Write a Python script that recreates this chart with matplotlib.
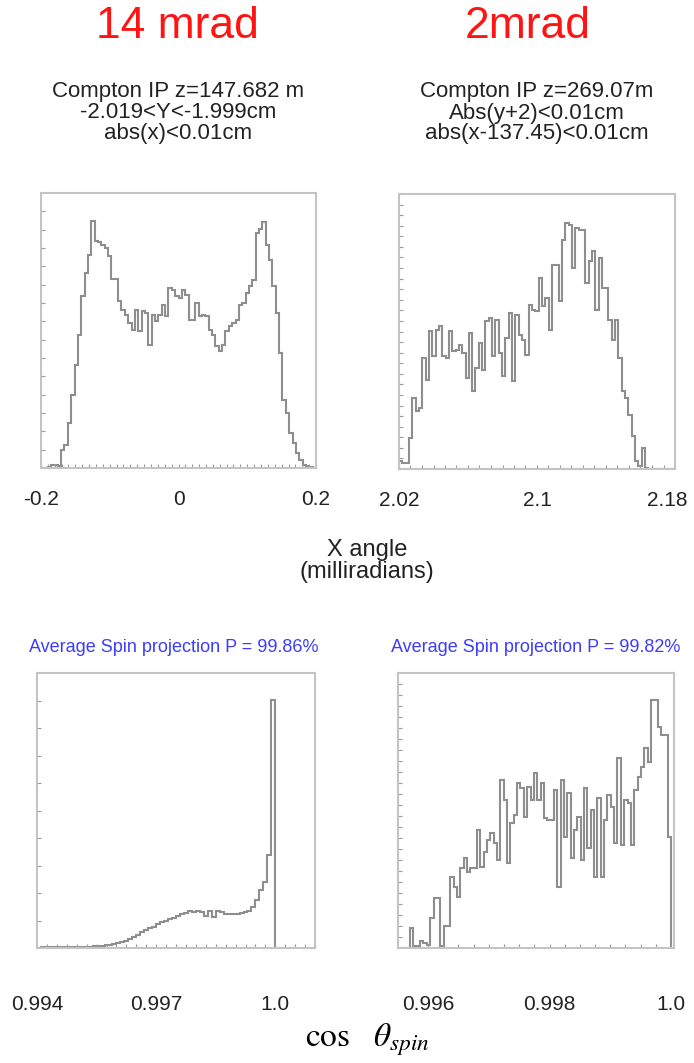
import numpy as np
import matplotlib
matplotlib.use('Agg')
import matplotlib.pyplot as plt
from matplotlib.ticker import MultipleLocator
from matplotlib.transforms import ScaledTranslation

plt.rcParams['font.family'] = ['Liberation Sans', 'DejaVu Sans']
plt.rcParams['mathtext.fontset'] = 'stix'

# --- data (arbitrary count units) ---
titles = ['14 mrad', '2mrad']
cuts_14 = 'Compton IP z=147.682 m\n-2.019<Y<-1.999cm\nabs(x)<0.01cm'
cuts_2 = 'Compton IP z=269.07m\nAbs(y+2)<0.01cm\nabs(x-137.45)<0.01cm'
spin_14 = 'Average Spin projection P = 99.86%'
spin_2 = 'Average Spin projection P = 99.82%'

xang_14_range = (-0.2, 0.2)
xang_14_ticks = [-0.2, 0.0, 0.2]
xang_14_labels = ['-0.2', '0', '0.2']
xang_14_counts = [0, 0, 1, 3, 3, 2, 18, 23, 45, 73,
                  103, 133, 172, 195, 213, 247, 227, 226, 223, 220,
                  212, 189, 189, 167, 158, 153, 145, 138, 158, 137,
                  157, 155, 123, 153, 147, 153, 163, 152, 180, 178,
                  172, 170, 178, 173, 148, 148, 165, 152, 153, 152,
                  138, 133, 122, 117, 123, 137, 142, 145, 148, 163,
                  165, 175, 182, 188, 235, 239, 246, 223, 208, 182,
                  155, 115, 68, 55, 35, 25, 15, 8, 3, 2,
                  1, 0]

xang_2_range = (2.02, 2.18)
xang_2_ticks = [2.02, 2.1, 2.18]
xang_2_labels = ['2.02', '2.1', '2.18']
xang_2_counts = [8, 6, 6, 31, 71, 58, 61, 111, 89, 138,
                 113, 139, 143, 113, 111, 138, 118, 119, 124, 116,
                 91, 136, 78, 101, 126, 99, 148, 151, 113, 149,
                 116, 93, 131, 156, 88, 154, 134, 129, 114, 164,
                 159, 158, 191, 163, 171, 139, 204, 204, 168, 229,
                 246, 244, 201, 241, 239, 239, 186, 208, 218, 159,
                 211, 181, 181, 149, 129, 149, 111, 78, 71, 54,
                 33, 8, 3, 21, 1, 0, 0, 0, 0, 0,
                 0, 0, 0]

cos_14_range = (0.994, 1.0)
cos_14_ticks = [0.994, 0.997, 1.0]
cos_14_labels = ['0.994', '0.997', '1.0']
cos_14_counts = [0, 1, 1, 1, 1, 1, 1, 1, 1, 1,
                 1, 1, 1, 1, 2, 2, 2, 3, 3, 4,
                 5, 6, 7, 9, 11, 13, 16, 18, 20, 21,
                 24, 26, 27, 29, 30, 32, 34, 35, 37, 36,
                 37, 36, 32, 37, 31, 37, 36, 34, 34, 34,
                 34, 35, 36, 37, 41, 48, 58, 66, 93, 248]

cos_2_range = (0.99554, 1.0)
cos_2_ticks = [0.996, 0.998, 1.0]
cos_2_labels = ['0.996', '0.998', '1.0']
cos_2_counts = [0, 0, 0, 20, 2, 2, 7, 5, 3, 30,
                50, 50, 2, 22, 22, 71, 61, 51, 80, 90,
                76, 80, 80, 118, 81, 96, 108, 115, 105, 88,
                168, 148, 85, 125, 133, 165, 160, 131, 161, 148,
                175, 148, 165, 130, 128, 128, 158, 61, 168, 111,
                155, 90, 118, 131, 88, 160, 100, 138, 71, 150,
                71, 128, 153, 141, 105, 190, 103, 148, 145, 103,
                158, 171, 181, 200, 186, 248, 248, 221, 213, 213,
                111]

W, H = 694, 1063
LINE = '#8e8e8e'
SPINE = '#c4c4c4'
TICK = '#9a9a9a'

fig = plt.figure(figsize=(W / 100, H / 100), dpi=100)


def box(x0, y0, x1, y1):
    # pixel box -> figure fraction
    return [x0 / W, 1 - y1 / H, (x1 - x0) / W, (y1 - y0) / H]


def hist_panel(rect, rng, counts, xlim, ticks, labels, xminor, ny, pad):
    ax = fig.add_axes(rect)
    edges = np.linspace(rng[0], rng[1], len(counts) + 1)
    ax.stairs(counts, edges, color=LINE, lw=1.5)
    ax.set_xlim(xlim)
    ax.set_ylim(0, 275)
    ax.set_xticks(ticks, labels)
    ax.xaxis.set_minor_locator(MultipleLocator(xminor))
    ax.set_yticks(np.linspace(0, 275, ny + 1)[1:-1])
    ax.set_yticklabels([])
    ax.tick_params(which='both', direction='in', color=TICK, length=3,
                   width=0.8, pad=pad, labelsize=15, labelcolor='#222222')
    for s in ax.spines.values():
        s.set_color(SPINE)
        s.set_linewidth(1.5)
    return ax


hist_panel(box(41, 193, 316, 468), xang_14_range, xang_14_counts, (-0.2, 0.2),
           xang_14_ticks, xang_14_labels, 0.01, 15, 16)
ax_tr = hist_panel(box(399, 194, 675, 469), xang_2_range, xang_2_counts, (2.02, 2.18),
                   xang_2_ticks, xang_2_labels, 0.16 / 24, 26, 16)
last = ax_tr.get_xticklabels()[-1]
last.set_transform(last.get_transform() + ScaledTranslation(-0.08, 0, fig.dpi_scale_trans))
hist_panel(box(37, 673, 315, 948), cos_14_range, cos_14_counts, (0.994, 1.001),
           cos_14_ticks, cos_14_labels, 0.00025, 10, 34)
hist_panel(box(398, 673, 674, 948), cos_2_range, cos_2_counts, (0.995506, 1.0000494),
           cos_2_ticks, cos_2_labels, 0.00025, 25, 34)

# titles and annotations
red = '#ff1414'
fig.text(177 / W, 1 - 27 / H, titles[0], color=red, fontsize=32, ha='center', va='center')
fig.text(528 / W, 1 - 27 / H, titles[1], color=red, fontsize=32, ha='center', va='center')
fig.text(178 / W, 1 - 113 / H, cuts_14, color='#222222', fontsize=16, ha='center',
         va='center', linespacing=1.0)
fig.text(537 / W, 1 - 113 / H, cuts_2, color='#222222', fontsize=16, ha='center',
         va='center', linespacing=1.0)
fig.text(367 / W, 1 - 561 / H, 'X angle\n(milliradians)', color='#222222', fontsize=17,
         ha='center', va='center', linespacing=0.95)
blue = '#3c3cff'
fig.text(174 / W, 1 - 648 / H, spin_14, color=blue, fontsize=13, ha='center', va='center')
fig.text(536 / W, 1 - 648 / H, spin_2, color=blue, fontsize=13, ha='center', va='center')
fig.text(368 / W, 1 - 1040 / H, r'$\mathrm{cos}\quad\theta_{spin}$', color='black',
         fontsize=24, ha='center', va='center')

fig.savefig('out.png', dpi=100, facecolor='white')
